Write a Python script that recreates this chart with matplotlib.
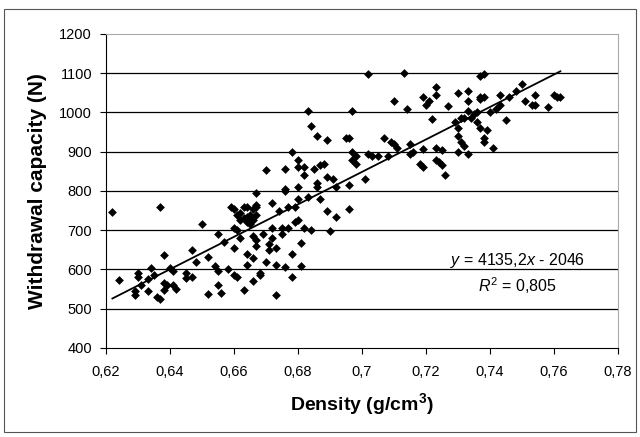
import numpy as np
import matplotlib
matplotlib.use('Agg')
import matplotlib.pyplot as plt
from matplotlib.patches import Rectangle
from matplotlib.ticker import FixedLocator, FixedFormatter

plt.rcParams['font.family'] = ['Liberation Sans', 'DejaVu Sans']
plt.rcParams['mathtext.fontset'] = 'custom'
plt.rcParams['mathtext.rm'] = 'Liberation Sans'
plt.rcParams['mathtext.it'] = 'Liberation Sans:italic'
plt.rcParams['mathtext.bf'] = 'Liberation Sans:bold'

# density (g/cm3), withdrawal capacity (N)
density = [
    0.622, 0.624, 0.629, 0.629, 0.630, 0.630, 0.631, 0.633, 0.633, 0.634,
    0.635, 0.636, 0.637, 0.637, 0.638, 0.638, 0.638, 0.639, 0.640, 0.641,
    0.641, 0.642, 0.645, 0.645, 0.647, 0.647, 0.648, 0.650, 0.652, 0.652,
    0.654, 0.655, 0.655, 0.655, 0.656, 0.657, 0.658, 0.659, 0.660, 0.660,
    0.660, 0.660, 0.661, 0.661, 0.662, 0.662, 0.663, 0.663, 0.663, 0.664,
    0.664, 0.664, 0.665, 0.665, 0.666, 0.666, 0.666, 0.666, 0.667, 0.667,
    0.667, 0.667, 0.667, 0.667, 0.668, 0.668, 0.669, 0.670, 0.670, 0.671,
    0.671, 0.672, 0.672, 0.672, 0.673, 0.673, 0.673, 0.674, 0.675, 0.675,
    0.676, 0.676, 0.676, 0.676, 0.677, 0.677, 0.678, 0.678, 0.678, 0.679,
    0.679, 0.680, 0.680, 0.680, 0.680, 0.680, 0.681, 0.681, 0.682, 0.682,
    0.682, 0.683, 0.683, 0.684, 0.684, 0.685, 0.686, 0.686, 0.686, 0.687,
    0.687, 0.688, 0.689, 0.689, 0.689, 0.690, 0.691, 0.692, 0.692, 0.695,
    0.696, 0.696, 0.696, 0.697, 0.697, 0.697, 0.698, 0.698, 0.701, 0.702,
    0.702, 0.703, 0.705, 0.707, 0.708, 0.709, 0.710, 0.710, 0.711, 0.713,
    0.714, 0.715, 0.715, 0.716, 0.718, 0.719, 0.719, 0.719, 0.720, 0.721,
    0.722, 0.723, 0.723, 0.723, 0.723, 0.724, 0.725, 0.725, 0.726, 0.727,
    0.729, 0.730, 0.730, 0.730, 0.730, 0.731, 0.731, 0.732, 0.732, 0.733,
    0.733, 0.733, 0.733, 0.734, 0.735, 0.736, 0.736, 0.737, 0.737, 0.737,
    0.737, 0.738, 0.738, 0.738, 0.738, 0.739, 0.740, 0.741, 0.742, 0.743,
    0.743, 0.745, 0.746, 0.748, 0.750, 0.751, 0.753, 0.754, 0.754, 0.758,
    0.760, 0.761, 0.762, 0.661, 0.662, 0.664, 0.665, 0.664, 0.666,
]
capacity = [
    747, 573, 535, 545, 580, 590, 560, 575, 545, 605,
    585, 530, 525, 760, 565, 638, 548, 560, 605, 595,
    560, 550, 590, 578, 650, 582, 618, 717, 632, 537,
    608, 595, 560, 690, 540, 670, 600, 760, 755, 705,
    655, 585, 580, 700, 680, 745, 730, 760, 548, 720,
    612, 640, 740, 730, 725, 685, 630, 570, 765, 760,
    740, 660, 675, 795, 585, 590, 690, 620, 853, 665,
    650, 705, 680, 770, 612, 655, 535, 750, 705, 690,
    800, 805, 855, 607, 705, 760, 900, 640, 580, 720,
    760, 880, 860, 810, 780, 725, 668, 610, 860, 840,
    705, 1005, 785, 965, 700, 855, 940, 820, 810, 780,
    865, 870, 835, 930, 750, 698, 830, 810, 735, 935,
    935, 755, 815, 900, 880, 1005, 890, 870, 830, 895,
    1097, 890, 890, 935, 890, 925, 920, 1030, 910, 1100,
    1010, 920, 895, 900, 870, 860, 1040, 908, 1020, 1030,
    983, 1065, 1045, 910, 880, 875, 905, 865, 840, 1017,
    975, 960, 940, 1050, 900, 985, 925, 985, 915, 1055,
    1030, 1005, 895, 985, 995, 1000, 975, 1035, 1040, 960,
    1093, 1098, 1040, 925, 935, 955, 1000, 910, 1010, 1020,
    1045, 980, 1040, 1055, 1073, 1030, 1020, 1045, 1020, 1015,
    1045, 1040, 1040, 740, 725, 735, 715, 760, 755,
]

# trendline as printed on the chart
slope = 4135.2
intercept = -2046
r2_text = '0,805'
trend_x = [0.622, 0.762]

x_ticks = [0.62, 0.64, 0.66, 0.68, 0.70, 0.72, 0.74, 0.76, 0.78]
x_tick_labels = ['0,62', '0,64', '0,66', '0,68', '0,7', '0,72', '0,74', '0,76', '0,78']
y_ticks = [400, 500, 600, 700, 800, 900, 1000, 1100, 1200]

fig = plt.figure(figsize=(6.4, 4.37), dpi=100)
fig.patches.append(Rectangle((0.006, 0.012), 0.988, 0.968, transform=fig.transFigure,
                             fill=False, edgecolor='#555555', linewidth=0.8))
ax = fig.add_axes([0.1656, 0.2037, 0.80, 0.7185])

ax.scatter(density, capacity, marker='D', s=20, color='black', linewidths=0, zorder=3)
tx = np.array(trend_x)
ax.plot(tx, slope * tx + intercept, color='black', linewidth=1.3, zorder=4)

ax.set_xlim(0.62, 0.78)
ax.set_ylim(400, 1200)
ax.xaxis.set_major_locator(FixedLocator(x_ticks))
ax.xaxis.set_major_formatter(FixedFormatter(x_tick_labels))
ax.set_yticks(y_ticks)
for yv in y_ticks[1:-1]:
    ax.axhline(yv, color='black', linewidth=0.9, zorder=1)

for s in ['top', 'right']:
    ax.spines[s].set_color('#aaaaaa')
    ax.spines[s].set_linestyle((0, (1, 1)))
    ax.spines[s].set_linewidth(0.8)
for s in ['left', 'bottom']:
    ax.spines[s].set_color('black')
    ax.spines[s].set_linewidth(0.8)

ax.tick_params(axis='both', direction='out', length=4, width=0.8, labelsize=10.5, colors='black')
ax.tick_params(axis='x', pad=8)
ax.tick_params(axis='y', pad=6)

ax.set_xlabel('Density (g/cm$^\\mathbf{3}$)', fontsize=14, fontweight='bold', labelpad=9)
ax.set_ylabel('Withdrawal capacity (N)', fontsize=15, fontweight='bold', labelpad=9)

ax.text(0.672, 0.280, '$\\mathit{y}$ = 4135,2$\\mathit{x}$ - 2046', transform=ax.transAxes,
        fontsize=11.5, ha='left', va='center')
ax.text(0.727, 0.200, '$\\mathit{R}^2$ = ' + r2_text, transform=ax.transAxes,
        fontsize=11.5, ha='left', va='center')

fig.savefig('out.png', dpi=100)
